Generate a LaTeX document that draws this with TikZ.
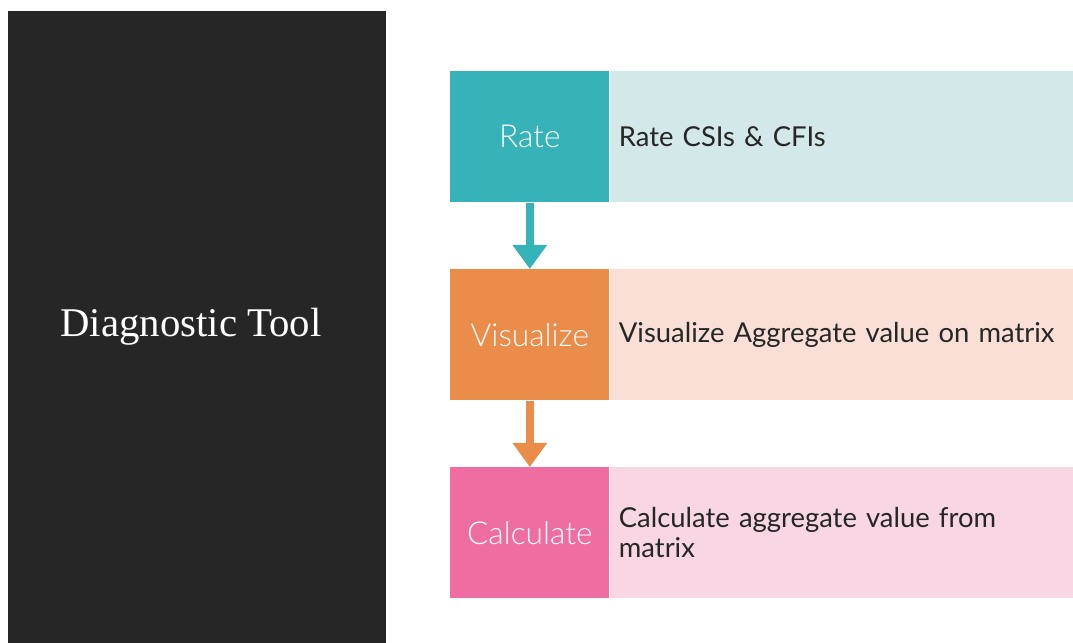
\documentclass[tikz,border=0pt]{standalone}
\usepackage{fontspec}
\setmainfont{Lato}
\newfontfamily\labelfont{Lato Light}
\newfontfamily\titlefont{Liberation Serif}
\usetikzlibrary{arrows.meta,positioning}

% colours of the three steps
\definecolor{panelgray}{HTML}{262626}
\definecolor{rateteal}{HTML}{36B3B8}
\definecolor{ratelight}{HTML}{D3E9E9}
\definecolor{visorange}{HTML}{EB8D4A}
\definecolor{vislight}{HTML}{F9DFD6}
\definecolor{calcpink}{HTML}{EE6EA1}
\definecolor{calclight}{HTML}{F9D6E3}

\tikzset{
  stepsquare/.style={minimum width=3.975cm,minimum height=3.275cm,inner sep=0pt,
    anchor=north west,text=white,font=\labelfont\fontsize{22.5}{26}\selectfont},
  stepnote/.style={minimum height=3.275cm,text width=11.15cm,inner xsep=0.225cm,
    inner ysep=0pt,align=left,right=0pt of #1,text=black!85,
    font=\fontsize{19.5}{21.5}\selectfont},
  steparrow/.style={line width=0.2cm,-{Triangle[width=0.825cm,length=0.6cm]}}
}

\begin{document}
\begin{tikzpicture}[x=0.025cm,y=-0.025cm]
  \useasboundingbox (0,0) rectangle (1073,643);

  % Dark title panel
  \node [fill=panelgray,minimum width=9.45cm,minimum height=15.8cm,inner sep=0pt,
         anchor=north west] (panel) at (8,11) {};
  \node [text=white,font=\titlefont\fontsize{29}{32}\selectfont]
        (title) at (191,327) {Diagnostic Tool};

  % Step 1
  \node [stepsquare,fill=rateteal] (rate) at (450,71) {Rate};
  \node [stepnote=rate,fill=ratelight] (ratenote) {Rate CSIs \& CFIs};

  % Step 2
  \node [stepsquare,fill=visorange] (visualize) at (450,269) {Visualize};
  \node [stepnote=visualize,fill=vislight] (visualizenote) {Visualize Aggregate value on matrix};

  % Step 3
  \node [stepsquare,fill=calcpink] (calculate) at (450,467) {Calculate};
  \node [stepnote=calculate,fill=calclight] (calculatenote) {Calculate aggregate value from\\matrix};

  % Arrows between steps
  \draw [steparrow,rateteal] (rate.south) -- (visualize.north);
  \draw [steparrow,visorange] (visualize.south) -- (calculate.north);
\end{tikzpicture}
\end{document}
